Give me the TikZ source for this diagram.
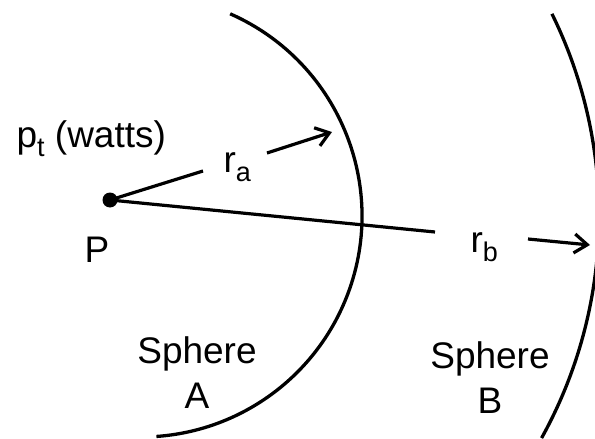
\documentclass[tikz,border=0pt]{standalone}
\usepackage{fontspec}
\setmainfont{Liberation Sans}
\usetikzlibrary{arrows.meta}
\newcommand\lowsub[1]{\raisebox{-9pt}{\fontsize{27}{27}\selectfont #1}}
\begin{document}
\begin{tikzpicture}[x=1pt,y=-1pt,line width=3.2pt,
  lbl/.style={inner sep=0pt,font=\fontsize{37}{45}\selectfont},
  arr/.style={-{Straight Barb[length=13pt,width=19pt]}},
  sphere/.style={line width=3.3pt},
  dotnode/.style={circle,fill,inner sep=0pt,minimum size=15pt}]
\useasboundingbox (0,0) rectangle (595,439);
\clip (0,0) rectangle (595,439);
\fill[white] (0,0) rectangle (595,439);
\coordinate (O) at (141,216);
% spheres
\draw[sphere] (O) ++(-66.2:221) arc[start angle=-66.2,end angle=86,radius=221];
\draw[sphere] (O) ++(-26.2:458) arc[start angle=-26.2,end angle=29,radius=458];
% source point
\node[dotnode] (P) at (110,200) {};
\node[lbl,anchor=base] (Plabel) at (97,262) {P};
\node[lbl,anchor=base west] (pt) at (15,147) {p\lowsub{t} (watts)};
% r_a
\coordinate (raS) at (203,171);
\coordinate (raT1) at (267,153);
\coordinate (raT2) at (332,132);
\node[lbl,anchor=base west] (ra) at (222,172) {r\lowsub{a}};
\draw (P.center) -- (raS);
\draw[arr] (raT1) -- (raT2);
% r_b
\coordinate (rbS) at (435,232);
\coordinate (rbT1) at (528,239);
\coordinate (rbT2) at (590,245);
\node[lbl,anchor=base west] (rb) at (469,252) {r\lowsub{b}};
\draw (P.center) -- (rbS);
\draw[arr] (rbT1) -- (rbT2);
% sphere labels
\node[lbl,anchor=base,align=center] (sA) at (197,408) {Sphere\\A};
\node[lbl,anchor=base,align=center] (sB) at (490,413) {Sphere\\B};
\end{tikzpicture}
\end{document}
